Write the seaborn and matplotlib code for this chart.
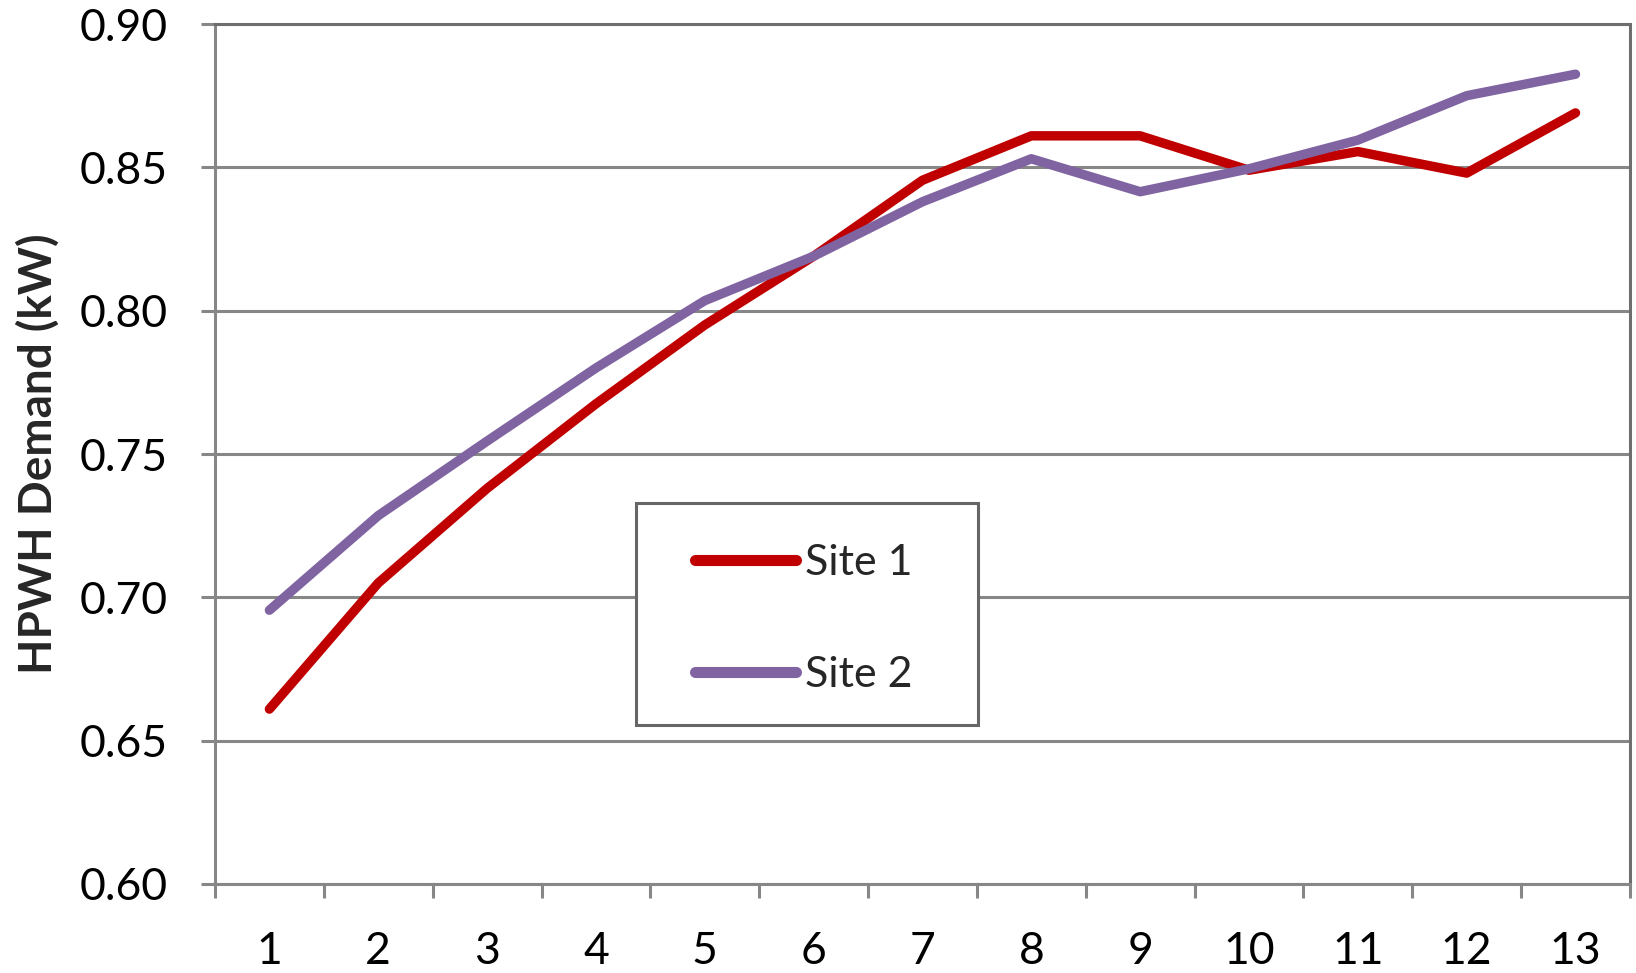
import matplotlib
matplotlib.use("Agg")
import matplotlib.pyplot as plt
from matplotlib.patches import Rectangle
from matplotlib.ticker import FixedLocator, NullFormatter, FixedFormatter
import seaborn as sns
import pandas as pd

# Hourly demand readings for the two sites
hours = list(range(1, 14))
site1 = [0.661, 0.705, 0.738, 0.7675, 0.795, 0.819, 0.8455, 0.861, 0.861, 0.849, 0.8555, 0.848, 0.869]
site2 = [0.6955, 0.7285, 0.7545, 0.780, 0.8035, 0.819, 0.838, 0.853, 0.8415, 0.8495, 0.8595, 0.875, 0.8825]
series_names = ["Site 1", "Site 2"]
tick_labels = [str(h) for h in hours]

df = pd.DataFrame({
    "hour": hours * 2,
    "demand": site1 + site2,
    "site": [series_names[0]] * len(hours) + [series_names[1]] * len(hours),
})

sns.set_theme(style="white")
plt.rcParams["font.family"] = ["Lato", "DejaVu Sans"]

grid_color = "#878787"
fig = plt.figure(figsize=(16.36, 9.73), dpi=100)
ax = fig.add_axes([0.1314, 0.0915, 0.8649, 0.8838])

palette = {"Site 1": "#C00000", "Site 2": "#8064A2"}
sns.lineplot(data=df, x="hour", y="demand", hue="site", palette=palette,
             linewidth=6.8, ax=ax, legend=False, zorder=5,
             solid_capstyle="round", solid_joinstyle="round")

ax.set_xlim(0.5, 13.5)
ax.set_ylim(0.60, 0.90)

# y axis
yticks = [0.60, 0.65, 0.70, 0.75, 0.80, 0.85, 0.90]
ax.set_yticks(yticks)
ax.set_yticklabels([f"{v:.2f}" for v in yticks])
ax.tick_params(axis="y", which="major", direction="out", length=10, width=2.2,
               color=grid_color, pad=24, labelsize=32, left=True, labelcolor="black")
ax.yaxis.grid(True, color=grid_color, linewidth=2.2)
ax.set_axisbelow(True)

# x axis: ticks at category boundaries, labels centred on categories
ax.xaxis.set_major_locator(FixedLocator([h - 0.5 for h in hours] + [13.5]))
ax.xaxis.set_major_formatter(NullFormatter())
ax.xaxis.set_minor_locator(FixedLocator(hours))
ax.xaxis.set_minor_formatter(FixedFormatter(tick_labels))
ax.tick_params(axis="x", which="major", direction="out", length=10, width=2.2,
               color=grid_color, bottom=True)
ax.tick_params(axis="x", which="minor", length=0, pad=34, labelsize=32,
               labelcolor="black", bottom=True)

for side in ["left", "bottom", "top", "right"]:
    ax.spines[side].set_visible(True)
    ax.spines[side].set_color(grid_color)
    ax.spines[side].set_linewidth(2.2)
ax.spines["top"].set_color("#6e6e6e")
ax.spines["right"].set_color("#6e6e6e")

ax.set_xlabel("")
ax.set_ylabel("HPWH Demand (kW)", fontsize=33, fontweight="bold", labelpad=14)

# Legend panel
box = Rectangle((0.2975, 0.185), 0.2415, 0.258, transform=ax.transAxes,
                facecolor="white", edgecolor="#666666", linewidth=2.2, zorder=6)
ax.add_patch(box)
handles = [plt.Line2D([], [], color=palette[n], linewidth=8, solid_capstyle="round")
           for n in series_names]
leg = ax.legend(handles, series_names, loc="center",
                bbox_to_anchor=(0.2975 + 0.2415 / 2 - 0.002, 0.185 + 0.258 / 2 - 0.006),
                frameon=False, fontsize=31, handlelength=2.35, handletextpad=0.2,
                labelspacing=1.72)
leg.set_zorder(7)

fig.savefig("out.png", dpi=100, facecolor="white")
